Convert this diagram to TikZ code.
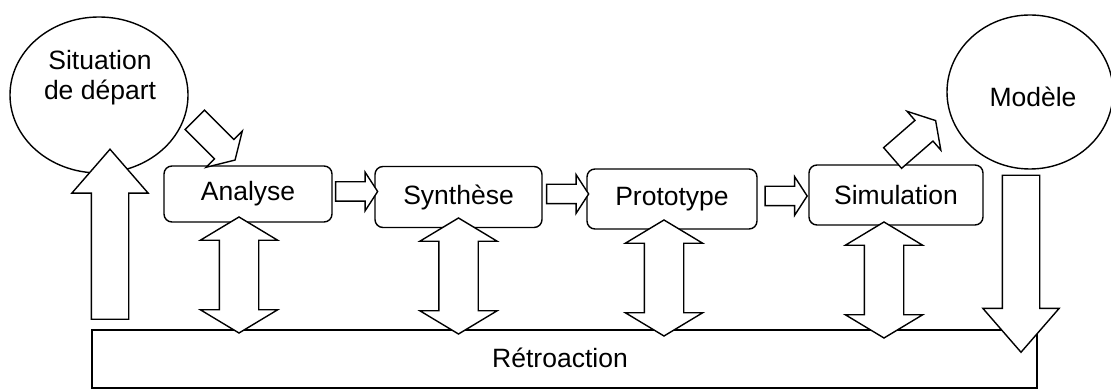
\documentclass[tikz,border=0pt]{standalone}
\usepackage{fontspec}
\setmainfont{Liberation Sans}
\usepackage{tikz}
\usetikzlibrary{shapes,shapes.arrows,positioning,calc}

\tikzset{
  bulle/.style={ellipse, draw, line width=1.4pt, inner sep=0pt},
  etape/.style={rectangle, rounded corners=8pt, draw, line width=1.4pt, inner sep=0pt},
  pleine/.style={single arrow, draw, fill=white, line width=1.4pt, inner xsep=0pt},
  double/.style={double arrow, draw, fill=white, line width=1.4pt, inner xsep=0pt},
  petite/.style={pleine, inner ysep=9pt, minimum height=42pt, minimum width=37pt, single arrow head extend=9.5pt, single arrow tip angle=114},
  oblique/.style={pleine, inner ysep=13pt, minimum height=57pt, minimum width=50pt, single arrow head extend=12pt, single arrow tip angle=118},
  grosse/.style={pleine, inner ysep=18pt, minimum width=75pt, single arrow head extend=19.5pt, single arrow tip angle=82},
  retour/.style={double, inner ysep=19pt, minimum height=116pt, minimum width=76pt, double arrow head extend=19pt, double arrow tip angle=118}
}

\begin{document}
\begin{tikzpicture}[x=1pt, y=1pt, font=\fontsize{26.5}{30}\selectfont]
\useasboundingbox (0,0) rectangle (1111,390);
% nodes
\node[bulle, minimum width=178pt, minimum height=156pt] (sit) at (99,295) {};%
\node[align=center] (sittxt) at (100,312) {Situation\\de départ};%
\node[bulle, minimum width=166pt, minimum height=154pt] (mod) at (1030,298) {};%
\node (modtxt) at (1033,293) {Modèle};%
\node[etape, minimum width=168pt, minimum height=56pt] (ana) at (248,196) {Analyse};%
\node[etape, minimum width=167pt, minimum height=61pt] (syn) at (458.5,193) {Synthèse};%
\node[etape, minimum width=170pt, minimum height=60pt] (pro) at (672,191) {Prototype};%
\node[etape, minimum width=174pt, minimum height=60pt] (sim) at (896,195) {Simulation};%
\node[rectangle, draw, line width=1.4pt, minimum width=945pt, minimum height=58pt] (retro) at (564.5,31) {};%
\node (retrotxt) at (560,32) {Rétroaction};%

% edges
\node[petite] (as) at ($(ana.east)!0.5!(syn.west)+(0,4)$) {};%
\node[petite] (sp) at ($(syn.east)!0.5!(pro.west)+(0,4)$) {};%
\node[petite] (ps) at ($(pro.east)!0.5!(sim.west)+(0,1)$) {};%
\node[oblique, rotate=-45] (sa) at (212,253) {};%
\node[oblique, rotate=41] (sm) at (911,248) {};%
\node[grosse, minimum height=170pt, rotate=90] (rs) at (110,145) {};%
\node[grosse, minimum height=177pt, rotate=-90] (mr) at (1021,137) {};%
\foreach \n/\x/\y in {ana/239/115, syn/458.5/114, pro/664/112, sim/884/110}
  \node[retour, rotate=90] (\n-retro) at (\x,\y) {};%
\end{tikzpicture}
\end{document}
